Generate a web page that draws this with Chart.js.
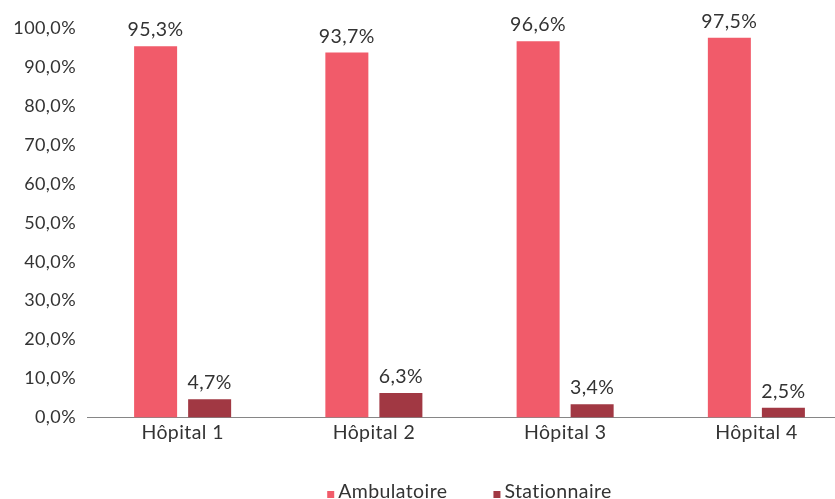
<!DOCTYPE html>
<html>
<head>
<meta charset="utf-8">
<script src="https://cdn.jsdelivr.net/npm/chart.js@4/dist/chart.umd.min.js"></script>
<style>
  html, body { margin: 0; padding: 0; background: #fff; overflow: hidden; }
  #wrap { position: relative; width: 852px; height: 499px; }
</style>
</head>
<body>
<div id="wrap"><canvas id="chart"></canvas></div>
<script>
const hospitals = ['Hôpital 1', 'Hôpital 2', 'Hôpital 3', 'Hôpital 4'];
const ambulatoire = [95.3, 93.7, 96.6, 97.5];
const stationnaire = [4.7, 6.3, 3.4, 2.5];
const seriesNames = ['Ambulatoire', 'Stationnaire'];
const seriesColors = ['#F15B6A', '#A13843'];

const FONT = 'Lato, "Open Sans", sans-serif';
const TEXT = '#333333';
const SPACING = '0.4px';

function pct(v) {
    return v.toFixed(1).replace('.', ',') + '%';
}

// slightly looser letter spacing for every text drawn on the canvas
const tracking = {
    id: 'tracking',
    beforeDraw(chart) {
        chart.ctx.letterSpacing = SPACING;
    }
};

// value labels above each bar
const valueLabels = {
    id: 'valueLabels',
    afterDatasetsDraw(chart) {
        const ctx = chart.ctx;
        ctx.save();
        ctx.letterSpacing = SPACING;
        ctx.font = '19.5px ' + FONT;
        ctx.fillStyle = TEXT;
        ctx.textAlign = 'center';
        ctx.textBaseline = 'alphabetic';
        chart.data.datasets.forEach((ds, i) => {
            chart.getDatasetMeta(i).data.forEach((bar, j) => {
                ctx.fillText(pct(ds.data[j]), bar.x, bar.y - 10);
            });
        });
        ctx.restore();
    }
};

// small square markers sitting on the text baseline, centred under the plot
const bottomLegend = {
    id: 'bottomLegend',
    afterDraw(chart) {
        const ctx = chart.ctx;
        const area = chart.chartArea;
        const box = 7, gap = 4, spacing = 46;
        const baseline = 498;
        ctx.save();
        ctx.letterSpacing = SPACING;
        ctx.font = '19.5px ' + FONT;
        const widths = seriesNames.map(n => ctx.measureText(n).width);
        const total = widths.reduce((s, w) => s + box + gap + w, 0) + spacing * (seriesNames.length - 1);
        let x = (area.left + area.right) / 2 - total / 2;
        ctx.textBaseline = 'alphabetic';
        ctx.textAlign = 'left';
        seriesNames.forEach((name, i) => {
            ctx.fillStyle = seriesColors[i];
            ctx.fillRect(x, baseline - box, box, box);
            x += box + gap;
            ctx.fillStyle = TEXT;
            ctx.fillText(name, x, baseline);
            x += widths[i] + spacing;
        });
        ctx.restore();
    }
};

new Chart(document.getElementById('chart'), {
    type: 'bar',
    data: {
        labels: hospitals,
        datasets: [
            { label: seriesNames[0], data: ambulatoire, backgroundColor: seriesColors[0] },
            { label: seriesNames[1], data: stationnaire, backgroundColor: seriesColors[1] }
        ]
    },
    options: {
        responsive: true,
        maintainAspectRatio: false,
        animation: false,
        layout: { padding: { top: 28, right: 0, bottom: 0, left: 0 } },
        datasets: {
            bar: { categoryPercentage: 0.565, barPercentage: 0.796 }
        },
        plugins: {
            legend: { display: false },
            tooltip: { enabled: false }
        },
        scales: {
            x: {
                grid: { display: false, drawTicks: false },
                border: { display: true, color: '#868686', width: 1 },
                ticks: { color: TEXT, font: { family: FONT, size: 19.5 }, padding: 4 },
                afterFit(scale) { scale.height = 81.5; }
            },
            y: {
                min: 0,
                max: 100,
                grid: { display: false, drawTicks: false },
                border: { display: false },
                ticks: {
                    stepSize: 10,
                    color: TEXT,
                    font: { family: FONT, size: 18 },
                    padding: 11,
                    callback: v => pct(v)
                },
                afterFit(scale) { scale.width = 87; }
            }
        }
    },
    plugins: [tracking, valueLabels, bottomLegend]
});
</script>
</body>
</html>
